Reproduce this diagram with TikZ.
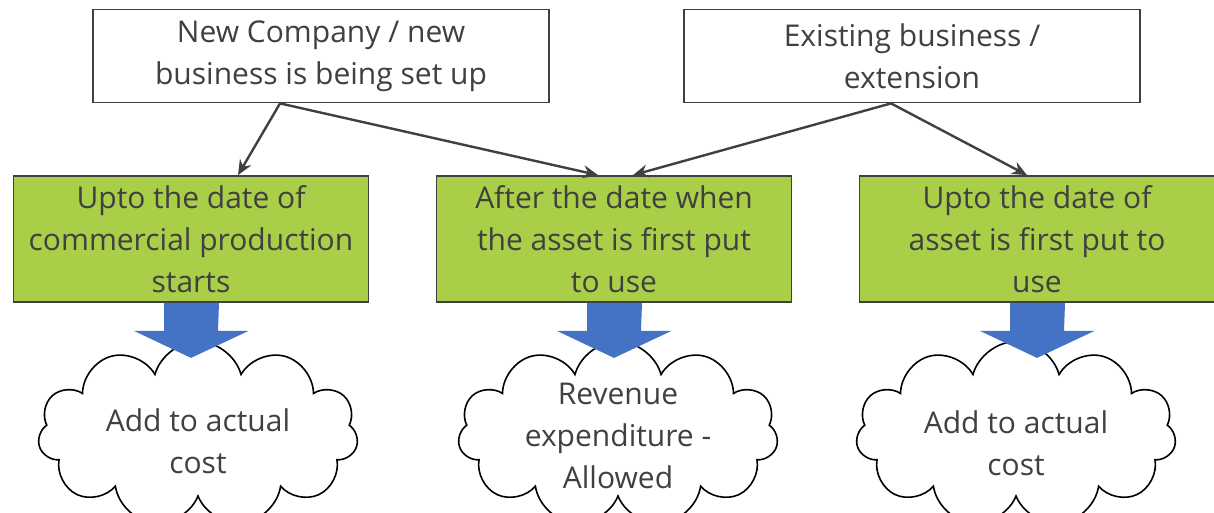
\documentclass[tikz,border=0pt]{standalone}
\usepackage{fontspec}
\setmainfont{Open Sans}
\usetikzlibrary{arrows.meta,shapes.symbols}
\definecolor{leafgreen}{RGB}{169,206,71}
\definecolor{blockblue}{RGB}{68,114,196}
\definecolor{edgegray}{RGB}{64,64,64}
\begin{document}
\begin{tikzpicture}[x=1pt,y=-1pt,
  every node/.style={font=\fontsize{30}{42}\selectfont,text=black!75,align=center},
  topbox/.style={draw=edgegray,line width=1.8pt,fill=white,minimum width=456pt,minimum height=93pt,inner sep=0pt},
  stepbox/.style={draw=edgegray,line width=1.8pt,fill=leafgreen,minimum width=355pt,minimum height=126pt,inner sep=0pt},
  puff/.style={draw,line width=1.6pt,cloud,cloud puffs=11,aspect=2,minimum width=320pt,minimum height=185pt,inner sep=0pt},
  link/.style={-{Stealth[length=15pt,width=13pt]},line width=2.4pt,draw=edgegray}]
\useasboundingbox (0,0) rectangle (1214,512);
\node[topbox] (newco) at (321,56) {New Company / new\\business is being set up};
\node[topbox] (exist) at (912,56) {Existing business /\\extension};
\node[stepbox] (g1) at (191,239) {Upto the date of\\commercial production\\starts};
\node[stepbox] (g2) at (614,239) {After the date when\\the asset is first put\\to use};
\node[stepbox] (g3) at (1037,239) {Upto the date of\\asset is first put to\\use};
% links from the top boxes
\coordinate (newfoot) at ([xshift=-41pt]newco.south);
\coordinate (exfoot) at ([xshift=-21pt]exist.south);
\draw[link] (newfoot) -- ([xshift=47pt]g1.north);
\draw[link] (newfoot) -- ([xshift=-16pt]g2.north);
\draw[link] (exfoot) -- ([xshift=19pt]g2.north);
\draw[link] (exfoot) -- ([xshift=-10pt]g3.north);
% clouds
\node[puff] (c1) at (198,434) {};
\node[puff] (c2) at (618,434) {};
\node[puff] (c3) at (1016,434) {};
\node (t1) at ([yshift=-7pt]c1.center) {Add to actual\\cost};
\node (t2) at ([yshift=-2pt]c2.center) {Revenue\\expenditure -\\Allowed};
\node (t3) at ([yshift=-9pt]c3.center) {Add to actual\\cost};
% block arrows
\foreach \n in {g1,g2,g3} {
  \fill[blockblue] ([xshift=-27pt]\n.south) -- ++(0,28) -- ++(-30,0) -- ([yshift=-55pt]\n.south) -- ++(57.5,-27) -- ++(-30.5,0) -- ([xshift=28pt]\n.south) -- cycle;
}
\end{tikzpicture}
\end{document}
